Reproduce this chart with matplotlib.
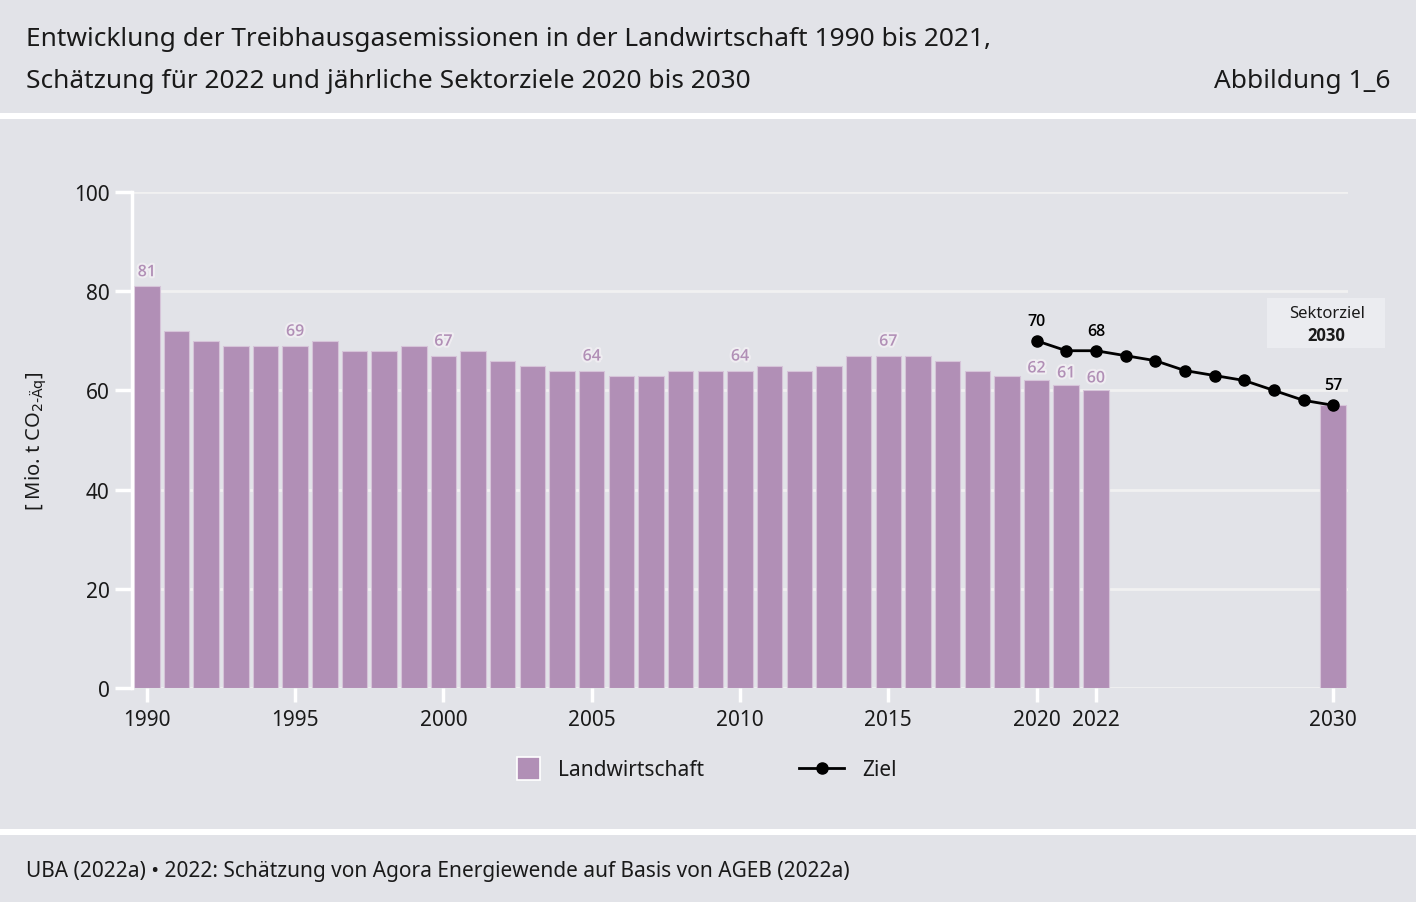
import numpy as np
import matplotlib
matplotlib.use('Agg')
import matplotlib.pyplot as plt
from matplotlib.patches import Rectangle
from matplotlib.lines import Line2D
import matplotlib.patheffects as pe

plt.rcParams['font.family'] = ['Noto Sans', 'DejaVu Sans']

## Data
years = list(range(1990, 2023)) + [2030]
values = [81, 72, 70, 69, 69, 69, 70, 68, 68, 69, 67, 68, 66, 65, 64, 64, 63, 63,
          64, 64, 64, 65, 64, 65, 67, 67, 67, 66, 64, 63, 62, 61, 60, 57]
labelled = [1990, 1995, 2000, 2005, 2010, 2015, 2020, 2021, 2022]

ziel_years = list(range(2020, 2031))
ziel_values = [70, 68, 68, 67, 66, 64, 63, 62, 60, 58, 57]
ziel_labelled = [2020, 2022, 2030]

xticks = [1990, 1995, 2000, 2005, 2010, 2015, 2020, 2022, 2030]
yticks = [0, 20, 40, 60, 80, 100]

## Styles
bg = '#e2e3e8'
bar_col = '#b18fb6'
txt = '#1a1a1a'
bold_fam = ['Open Sans', 'DejaVu Sans']

fig = plt.figure(figsize=(14.16, 9.03), dpi=100, facecolor=bg)
W, H = 1416, 903

def fx(px):
    return px / W

def fy(py):
    return 1 - py / H

ax = fig.add_axes([fx(132), fy(689), fx(1348) - fx(132), fy(193) - fy(689)])
ax.set_facecolor(bg)

ax.bar(years, values, width=0.86, color=bar_col, edgecolor='#d6c4d9', linewidth=0.8, zorder=2)
ax.plot(ziel_years, ziel_values, color='black', lw=2, marker='o', ms=8, zorder=4)

halo = [pe.withStroke(linewidth=3, foreground='#efedf1')]
for y, v in zip(years, values):
    if y in labelled:
        off = 4 if y >= 2020 else 6
        ax.annotate(str(v), (y, v), xytext=(0, off), textcoords='offset pixels',
                    ha='center', va='bottom', fontsize=11.5, color=bar_col,
                    family=bold_fam, fontweight='semibold',
                    path_effects=halo, zorder=5)
for y, v in zip(ziel_years, ziel_values):
    if y in ziel_labelled:
        ax.annotate(str(v), (y, v), xytext=(0, 12), textcoords='offset pixels',
                    ha='center', va='bottom', fontsize=11.5, color='black',
                    family=bold_fam, fontweight='semibold', zorder=5)

ax.set_xlim(1989.5, 2030.5)
ax.set_ylim(0, 100)
ax.set_xticks(xticks)
ax.set_yticks(yticks)
ax.tick_params(axis='both', colors='white', labelcolor=txt, labelsize=15, width=2.5)
ax.tick_params(axis='y', length=12, pad=4)
ax.tick_params(axis='x', length=10, pad=5)
ax.grid(axis='y', color='#f1f1f1', lw=2, zorder=1)
ax.set_axisbelow(True)
for s in ['top', 'right', 'bottom']:
    ax.spines[s].set_visible(False)
ax.spines['left'].set_color('white')
ax.spines['left'].set_linewidth(2.5)
ax.set_ylabel(r'[ Mio. t CO$_{\text{2-Äq}}$]', fontsize=14.5, color=txt, labelpad=18)

# Sektorziel box
fig.add_artist(Rectangle((fx(1267), fy(349)), fx(1385) - fx(1267), fy(299) - fy(349),
                         transform=fig.transFigure, fc='#ebecf0', ec='none'))
fig.text(fx(1327), fy(314), 'Sektorziel', fontsize=12, color=txt, ha='center', va='center')
fig.text(fx(1326), fy(336), '2030', fontsize=12, color=txt, ha='center', va='center',
         family=bold_fam, fontweight='bold')

# header / footer
fig.text(fx(26), fy(40), 'Entwicklung der Treibhausgasemissionen in der Landwirtschaft 1990 bis 2021,',
         fontsize=18.9, color=txt, va='center', ha='left')
fig.text(fx(26), fy(82), 'Schätzung für 2022 und jährliche Sektorziele 2020 bis 2030',
         fontsize=18.9, color=txt, va='center', ha='left')
fig.text(fx(1390), fy(82), 'Abbildung 1_6', fontsize=18.9, color=txt, va='center', ha='right')
fig.text(fx(26), fy(872), 'UBA (2022a) • 2022: Schätzung von Agora Energiewende auf Basis von AGEB (2022a)',
         fontsize=15, color=txt, va='center', ha='left')

fig.add_artist(Rectangle((0, fy(120)), 1, fy(114) - fy(120), transform=fig.transFigure,
                         fc='white', ec='none'))
fig.add_artist(Rectangle((0, fy(836)), 1, fy(830) - fy(836), transform=fig.transFigure,
                         fc='white', ec='none'))

# legend
fig.add_artist(Rectangle((fx(517), fy(781)), fx(23), fy(758) - fy(781), transform=fig.transFigure,
                         fc=bar_col, ec='white', lw=1.2))
fig.text(fx(558), fy(771), 'Landwirtschaft', fontsize=15, color=txt, va='center', ha='left')
fig.add_artist(Line2D([fx(799), fx(844)], [fy(769), fy(769)], transform=fig.transFigure,
                      color='black', lw=2))
fig.add_artist(Line2D([fx(822)], [fy(769)], transform=fig.transFigure, color='black',
                      marker='o', ms=8))
fig.text(fx(862), fy(771), 'Ziel', fontsize=15, color=txt, va='center', ha='left')

fig.savefig('out.png', dpi=100, facecolor=bg)
